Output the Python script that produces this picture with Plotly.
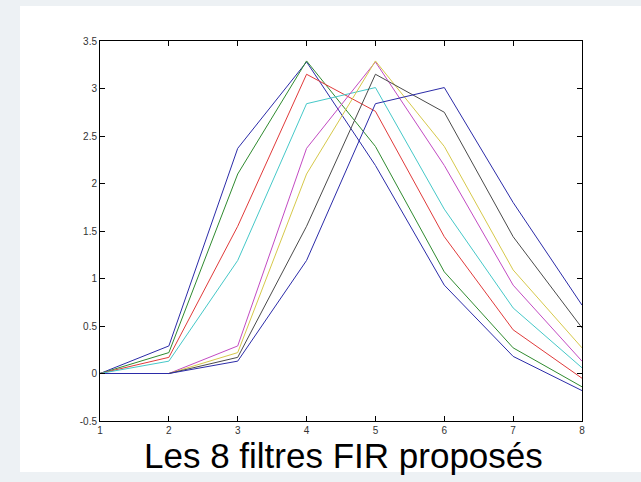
import plotly.graph_objects as go

x_vals = [1, 2, 3, 4, 5, 6, 7, 8]
s1 = [0, 0.29, 2.37, 3.28, 2.19, 0.93, 0.18, -0.18]
s2 = [0, 0.22, 2.10, 3.29, 2.39, 1.07, 0.27, -0.14]
s3 = [0, 0.17, 1.55, 3.15, 2.76, 1.44, 0.46, -0.05]
s4 = [0, 0.13, 1.19, 2.84, 3.01, 1.73, 0.69, 0.06]
s5 = [0, 0, 0.29, 2.37, 3.28, 2.19, 0.93, 0.13]
s6 = [0, 0, 0.22, 2.10, 3.29, 2.39, 1.09, 0.27]
s7 = [0, 0, 0.17, 1.55, 3.15, 2.75, 1.44, 0.48]
s8 = [0, 0, 0.13, 1.19, 2.84, 3.01, 1.80, 0.72]
series = [s1, s2, s3, s4, s5, s6, s7, s8]
colors = ["#2b2ba8", "#2f8a2f", "#e03a3a", "#45c8c8", "#c24ac2", "#d6c84a", "#4a4a4a", "#2b2ba8"]

y_ticks = [-0.5, 0, 0.5, 1, 1.5, 2, 2.5, 3, 3.5]
y_ticklabels = ["-0.5", "0", "0.5", "1", "1.5", "2", "2.5", "3", "3.5"]
title_text = "Les 8 filtres FIR proposés"

fig = go.Figure()
for s, c in zip(series, colors):
    fig.add_trace(go.Scatter(x=x_vals, y=s, mode="lines",
                             line=dict(color=c, width=1), showlegend=False))

axis_common = dict(showgrid=False, zeroline=False, mirror="ticks", ticks="inside",
                   ticklen=5, tickcolor="#000", linecolor="#000", linewidth=1,
                   showline=True, tickfont=dict(family="Liberation Sans, Arial", size=10, color="#333"))

fig.update_layout(
    width=641, height=482,
    margin=dict(l=100, r=59, t=41, b=61),
    paper_bgcolor="#edf1f4",
    plot_bgcolor="#ffffff",
    xaxis=dict(range=[1, 8], tickvals=x_vals, ticktext=[str(v) for v in x_vals], **axis_common),
    yaxis=dict(range=[-0.5, 3.5], tickvals=y_ticks, ticktext=y_ticklabels, **axis_common),
    shapes=[dict(type="rect", xref="paper", yref="paper", x0=-0.166, x1=1.13,
                 y0=-0.134, y1=1.092, fillcolor="#ffffff", line=dict(width=0), layer="below")],
    annotations=[dict(text=title_text, xref="paper", yref="paper", x=0.506, y=-0.0921,
                      xanchor="center", yanchor="middle", showarrow=False,
                      font=dict(family="Liberation Sans, Arial", size=35, color="#000"))],
)

fig.write_html("out.html", config={"displayModeBar": False},
               post_script="document.body.style.margin='0';document.body.style.background='#edf1f4';")
